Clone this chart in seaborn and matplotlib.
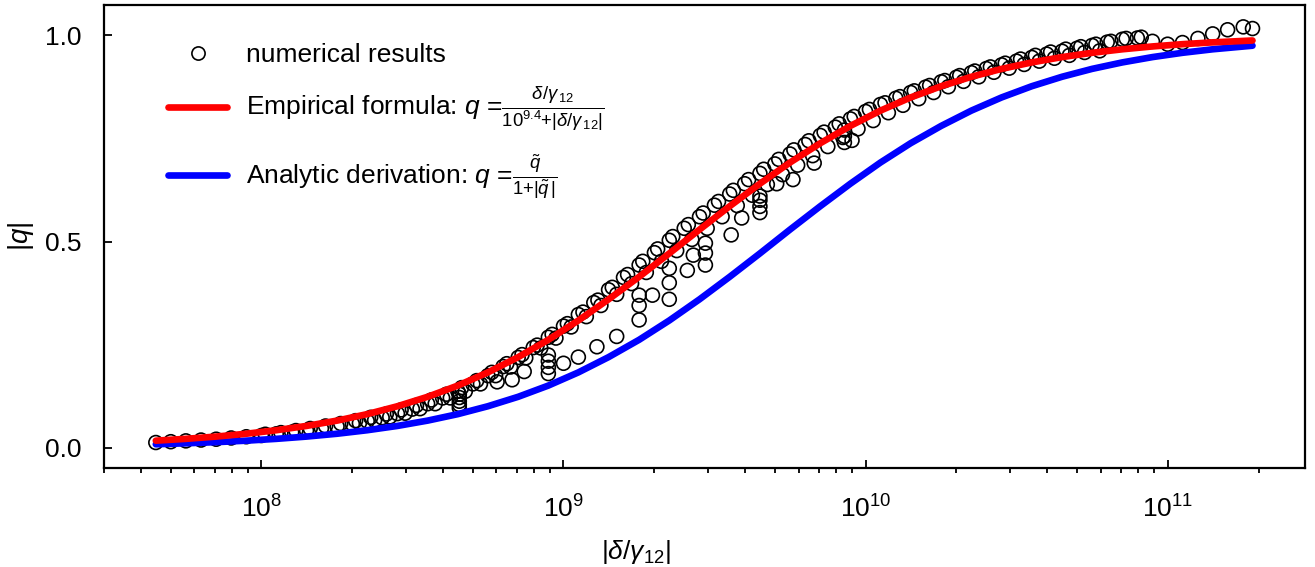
import numpy as np
import pandas as pd
import matplotlib
matplotlib.use("Agg")
import matplotlib.pyplot as plt
from matplotlib.lines import Line2D
from matplotlib.ticker import LogLocator, NullFormatter
import seaborn as sns

# ---------------- data ----------------
# numerical results: main band
num_x_main = [4.47e7, 5.01e7, 5.62e7, 6.31e7, 7.08e7, 7.94e7, 8.91e7,
              1.00e8, 1.12e8, 1.26e8, 1.41e8, 1.58e8, 1.78e8, 2.00e8, 2.24e8, 2.51e8, 2.82e8,
              3.16e8, 3.55e8, 3.98e8, 4.47e8, 5.01e8, 5.62e8, 6.31e8, 7.08e8, 7.94e8, 8.91e8,
              1.00e9, 1.12e9, 1.26e9, 1.41e9, 1.58e9, 1.78e9, 2.00e9, 2.24e9, 2.51e9, 2.82e9,
              3.16e9, 3.55e9, 3.98e9, 4.47e9, 5.01e9, 5.62e9, 6.31e9, 7.08e9, 7.94e9, 8.91e9,
              1.00e10, 1.12e10, 1.26e10, 1.41e10, 1.58e10, 1.78e10, 2.00e10, 2.24e10, 2.51e10, 2.82e10,
              3.16e10, 3.55e10, 3.98e10, 4.47e10, 5.01e10, 5.62e10, 6.31e10, 7.08e10, 7.94e10, 8.91e10,
              1.00e11, 1.12e11, 1.26e11, 1.41e11, 1.58e11, 1.78e11, 1.91e11]
num_q_main = [0.013, 0.015, 0.017, 0.019, 0.021, 0.024, 0.027,
              0.030, 0.034, 0.038, 0.042, 0.047, 0.052, 0.058, 0.065, 0.073, 0.083,
              0.094, 0.107, 0.121, 0.137, 0.155, 0.175, 0.197, 0.219, 0.243, 0.268,
              0.295, 0.323, 0.352, 0.383, 0.413, 0.443, 0.473, 0.503, 0.532, 0.560,
              0.588, 0.615, 0.640, 0.665, 0.688, 0.712, 0.735, 0.757, 0.777, 0.797,
              0.815, 0.832, 0.847, 0.861, 0.874, 0.887, 0.898, 0.909, 0.919, 0.928,
              0.937, 0.946, 0.954, 0.961, 0.968, 0.975, 0.983, 0.990, 0.993, 0.985,
              0.978, 0.982, 0.992, 1.003, 1.013, 1.020, 1.016]

# numerical results: second dense band (slightly below)
num_x_band2 = [2.11e8, 2.37e8, 2.66e8, 2.99e8, 3.35e8, 3.76e8, 4.22e8, 4.73e8, 5.31e8, 5.96e8,
               6.68e8, 7.50e8, 8.41e8, 9.44e8, 1.06e9, 1.19e9, 1.33e9, 1.50e9, 1.68e9, 1.88e9,
               2.11e9, 2.37e9, 2.66e9, 2.99e9, 3.35e9, 3.76e9, 4.22e9, 4.73e9, 5.31e9, 5.96e9,
               6.68e9, 7.50e9, 8.41e9, 9.44e9, 1.06e10, 1.19e10, 1.33e10, 1.50e10, 1.68e10, 1.88e10,
               2.11e10, 2.37e10, 2.66e10, 2.99e10, 3.35e10, 3.76e10, 4.22e10, 4.73e10, 5.31e10, 5.96e10]
num_q_band2 = [0.060, 0.067, 0.075, 0.084, 0.095, 0.107, 0.121, 0.137, 0.155, 0.175,
               0.196, 0.218, 0.242, 0.266, 0.293, 0.318, 0.345, 0.372, 0.398, 0.425,
               0.452, 0.478, 0.505, 0.532, 0.560, 0.587, 0.612, 0.638, 0.662, 0.685,
               0.708, 0.730, 0.752, 0.773, 0.793, 0.812, 0.830, 0.846, 0.861, 0.875,
               0.888, 0.899, 0.910, 0.920, 0.929, 0.937, 0.944, 0.951, 0.958, 0.962]

# numerical results: third dense band (slightly above in the middle range)
num_x_band3 = [1.03e8, 1.16e8, 1.30e8, 1.45e8, 1.63e8, 1.83e8, 2.05e8, 2.30e8, 2.59e8, 2.90e8,
               3.26e8, 3.65e8, 4.10e8, 4.60e8, 5.16e8, 5.79e8, 6.49e8, 7.29e8, 8.18e8, 9.17e8,
               1.03e9, 1.16e9, 1.30e9, 1.45e9, 1.63e9, 1.83e9, 2.05e9, 2.30e9, 2.59e9, 2.90e9,
               3.26e9, 3.65e9, 4.10e9, 4.60e9, 5.16e9, 5.79e9, 6.49e9, 7.29e9, 8.18e9, 9.17e9,
               1.03e10, 1.16e10, 1.30e10, 1.45e10, 1.63e10, 1.83e10, 2.05e10, 2.30e10, 2.59e10, 2.90e10,
               3.26e10, 3.65e10, 4.10e10, 4.60e10, 5.16e10, 5.79e10, 6.49e10, 7.29e10, 8.18e10]
num_q_band3 = [0.033, 0.037, 0.042, 0.047, 0.053, 0.059, 0.066, 0.074, 0.082, 0.092,
               0.103, 0.116, 0.130, 0.146, 0.163, 0.183, 0.204, 0.226, 0.249, 0.275,
               0.301, 0.329, 0.358, 0.389, 0.420, 0.452, 0.482, 0.512, 0.541, 0.569,
               0.597, 0.624, 0.650, 0.675, 0.699, 0.722, 0.744, 0.765, 0.785, 0.803,
               0.820, 0.836, 0.851, 0.865, 0.878, 0.890, 0.902, 0.913, 0.923, 0.932,
               0.942, 0.951, 0.959, 0.966, 0.972, 0.978, 0.985, 0.992, 0.995]

# numerical results: scattered low points / vertical stacks
num_x_low = [4.52e8, 4.52e8, 4.52e8, 4.52e8, 4.52e8,
             6.03e8, 6.76e8, 7.41e8,
             8.91e8, 8.91e8, 8.91e8, 8.91e8,
             1.00e9, 1.12e9, 1.29e9, 1.50e9,
             1.78e9, 1.78e9, 1.78e9, 1.97e9,
             2.24e9, 2.24e9, 2.24e9, 2.57e9, 2.69e9,
             2.95e9, 2.95e9, 2.95e9, 3.59e9, 3.89e9,
             4.47e9, 4.47e9, 4.47e9, 4.47e9,
             5.08e9, 5.75e9, 6.76e9,
             8.51e9, 8.51e9, 8.51e9, 9.02e9]
num_q_low = [0.097, 0.105, 0.113, 0.122, 0.130,
             0.160, 0.165, 0.185,
             0.180, 0.195, 0.210, 0.225,
             0.205, 0.220, 0.245, 0.270,
             0.310, 0.345, 0.370, 0.370,
             0.360, 0.400, 0.435, 0.430, 0.467,
             0.443, 0.472, 0.496, 0.516, 0.557,
             0.570, 0.585, 0.600, 0.610,
             0.640, 0.650, 0.690,
             0.740, 0.755, 0.770, 0.745]

# curves
curve_x = [4.47e7, 5.62e7, 7.08e7, 8.91e7, 1.12e8, 1.41e8, 1.78e8, 2.24e8, 2.82e8, 3.55e8,
           4.47e8, 5.62e8, 7.08e8, 8.91e8, 1.12e9, 1.41e9, 1.78e9, 2.24e9, 2.82e9, 3.55e9,
           4.47e9, 5.62e9, 7.08e9, 8.91e9, 1.12e10, 1.41e10, 1.78e10, 2.24e10, 2.82e10, 3.55e10,
           4.47e10, 5.62e10, 7.08e10, 8.91e10, 1.12e11, 1.41e11, 1.91e11]
empirical_q = [0.0175, 0.0219, 0.0274, 0.0343, 0.0428, 0.0532, 0.0661, 0.0818, 0.1009, 0.1238,
               0.1510, 0.1829, 0.2199, 0.2619, 0.3087, 0.3599, 0.4145, 0.4712, 0.5288, 0.5855,
               0.6401, 0.6913, 0.7381, 0.7801, 0.8171, 0.8490, 0.8762, 0.8991, 0.9182, 0.9339,
               0.9468, 0.9572, 0.9657, 0.9726, 0.9781, 0.9825, 0.9870]
analytic_q = [0.0088, 0.0111, 0.0139, 0.0175, 0.0219, 0.0274, 0.0343, 0.0428, 0.0532, 0.0661,
              0.0818, 0.1009, 0.1238, 0.1510, 0.1829, 0.2199, 0.2619, 0.3087, 0.3599, 0.4145,
              0.4712, 0.5288, 0.5855, 0.6401, 0.6913, 0.7381, 0.7801, 0.8171, 0.8490, 0.8762,
              0.8991, 0.9182, 0.9339, 0.9468, 0.9572, 0.9657, 0.9744]

y_ticks = [0.0, 0.5, 1.0]
y_tick_labels = ["0.0", "0.5", "1.0"]

label_num = "numerical results"
label_emp = r"Empirical formula: $q$ =$\frac{\delta/\gamma_{\,12}}{10^{9.4}{+}|\delta/\gamma_{\,12}|}$"
label_ana = r"Analytic derivation: $q$ =$\frac{\tilde{q}}{1{+}|\tilde{q}\,|}$"

# ---------------- style ----------------
sns.set_theme(style="white")
plt.rcParams["font.family"] = ["Liberation Sans", "DejaVu Sans"]
plt.rcParams["mathtext.fontset"] = "custom"
plt.rcParams["mathtext.rm"] = "Liberation Sans"
plt.rcParams["mathtext.it"] = "Liberation Sans:italic"
plt.rcParams["mathtext.bf"] = "Liberation Sans:bold"
plt.rcParams["axes.unicode_minus"] = False
plt.rcParams["text.color"] = "black"
plt.rcParams["axes.labelcolor"] = "black"
plt.rcParams["xtick.color"] = "black"
plt.rcParams["ytick.color"] = "black"

FS = 19
fig = plt.figure(figsize=(13.15, 5.67), dpi=100)
ax = fig.add_axes([103.5 / 1315, 1 - 467.7 / 567, (1305 - 103.5) / 1315, (467.7 - 5) / 567])

df_num = pd.DataFrame({
    "x": num_x_main + num_x_band2 + num_x_band3 + num_x_low,
    "q": num_q_main + num_q_band2 + num_q_band3 + num_q_low,
})
df_curve = pd.DataFrame({"x": curve_x, "emp": empirical_q, "ana": analytic_q})

sns.scatterplot(data=df_num, x="x", y="q", ax=ax, marker="o", s=100,
                facecolor="none", edgecolor="black", linewidth=1.2, zorder=2, legend=False)
sns.lineplot(data=df_curve, x="x", y="ana", ax=ax, color="#0000ff", linewidth=4.8,
             estimator=None, sort=False, zorder=3, legend=False)
sns.lineplot(data=df_curve, x="x", y="emp", ax=ax, color="#ff0000", linewidth=4.8,
             estimator=None, sort=False, zorder=4, legend=False)

ax.set_xscale("log")
ax.set_xlim(3e7, 2.85e11)
ax.set_ylim(-0.048, 1.073)

ax.xaxis.set_major_locator(LogLocator(base=10, numticks=20))
ax.xaxis.set_minor_locator(LogLocator(base=10, subs=np.arange(2, 10), numticks=50))
ax.xaxis.set_minor_formatter(NullFormatter())
ax.set_yticks(y_ticks)
ax.set_yticklabels(y_tick_labels)

for sp in ax.spines.values():
    sp.set_linewidth(1.6)
    sp.set_color("black")
    sp.set_visible(True)

ax.tick_params(axis="x", which="major", direction="in", length=6, width=1.3,
               labelsize=FS, pad=20, colors="black", bottom=True, top=False)
ax.tick_params(axis="x", which="minor", direction="out", length=3.5, width=1.3,
               colors="black", bottom=True, top=False)
ax.tick_params(axis="y", which="major", direction="in", length=6, width=1.3,
               labelsize=FS, pad=16, colors="black", left=True, right=False)

ax.set_xlabel(r"$\left|\delta/\gamma_{12}\right|$", fontsize=FS, color="black")
ax.xaxis.set_label_coords(0.443, -0.152)
ax.set_ylabel(r"$|q|$", fontsize=FS + 1, labelpad=6, color="black")

handles = [
    Line2D([], [], linestyle="none", marker="o", markersize=9.5, markerfacecolor="none",
           markeredgecolor="black", markeredgewidth=1.2),
    Line2D([], [], color="#ff0000", linewidth=4.8),
    Line2D([], [], color="#0000ff", linewidth=4.8),
]
leg = ax.legend(handles=handles, labels=[label_num, label_emp, label_ana],
                loc="upper left", bbox_to_anchor=(0.045, 0.94), frameon=False,
                fontsize=FS, handlelength=2.25, handletextpad=0.7, labelspacing=0.68,
                borderaxespad=0)
for t in leg.get_texts():
    t.set_color("black")

ax.grid(False)
fig.savefig("out.png", dpi=100)
